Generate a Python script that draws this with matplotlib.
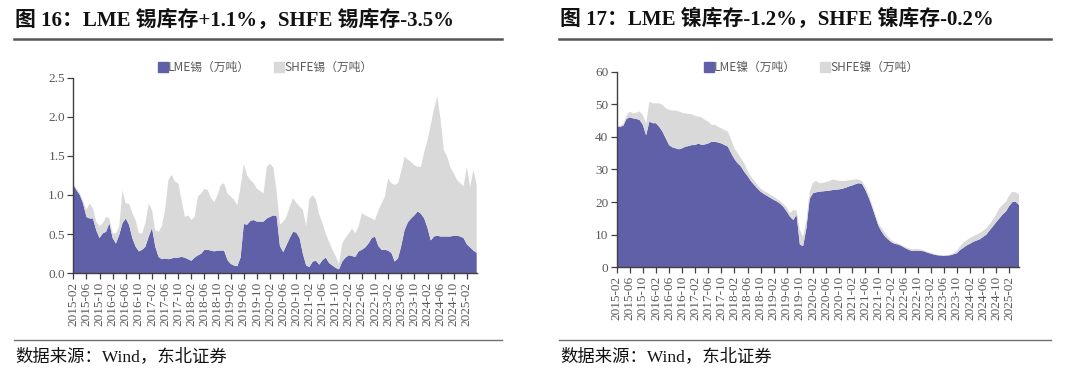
import matplotlib
matplotlib.use("Agg")
import matplotlib.pyplot as plt
import numpy as np
from matplotlib.lines import Line2D

# monthly points, first one is 2015-02
tin_lme = [
    1.13, 1.06, 1.00, 0.89, 0.72, 0.70, 0.70, 0.55, 0.45, 0.51,
    0.53, 0.64, 0.45, 0.38, 0.49, 0.64, 0.70, 0.62, 0.45, 0.34,
    0.28, 0.30, 0.34, 0.47, 0.58, 0.34, 0.21, 0.18, 0.19, 0.18,
    0.19, 0.20, 0.20, 0.21, 0.20, 0.18, 0.16, 0.20, 0.23, 0.25,
    0.30, 0.30, 0.29, 0.28, 0.29, 0.29, 0.29, 0.17, 0.12, 0.10,
    0.09, 0.20, 0.63, 0.62, 0.67, 0.68, 0.66, 0.66, 0.66, 0.70,
    0.72, 0.74, 0.73, 0.35, 0.27, 0.36, 0.45, 0.53, 0.52, 0.45,
    0.25, 0.10, 0.08, 0.15, 0.16, 0.11, 0.17, 0.20, 0.13, 0.10,
    0.07, 0.05, 0.15, 0.20, 0.23, 0.22, 0.21, 0.28, 0.30, 0.33,
    0.38, 0.45, 0.47, 0.35, 0.30, 0.30, 0.29, 0.26,
    0.15, 0.19, 0.35, 0.55, 0.65, 0.70, 0.74, 0.79, 0.76, 0.70, 0.58,
    0.42, 0.47, 0.48, 0.47, 0.47, 0.47, 0.47, 0.48, 0.48, 0.47,
    0.45, 0.37, 0.33, 0.29, 0.26,
]
tin_shfe = [
    0.02, 0.02, 0.02, 0.03, 0.09, 0.19, 0.13, 0.11, 0.15, 0.13,
    0.19, 0.06, 0.06, 0.13, 0.11, 0.42, 0.19, 0.27, 0.32, 0.34,
    0.23, 0.21, 0.30, 0.42, 0.23, 0.21, 0.32, 0.42, 0.62, 1.01,
    1.07, 0.97, 0.95, 0.73, 0.52, 0.56, 0.52, 0.52, 0.75, 0.77,
    0.78, 0.76, 0.67, 0.63, 0.71, 0.84, 0.86, 0.85, 0.86, 0.84,
    0.78, 0.90, 0.77, 0.63, 0.52, 0.47, 0.42, 0.39, 0.36, 0.66,
    0.68, 0.61, 0.32, 0.27, 0.39, 0.36, 0.40, 0.43, 0.38, 0.40,
    0.56, 0.50, 0.87, 0.85, 0.78, 0.64, 0.47, 0.30, 0.27, 0.20,
    0.15, 0.07, 0.23, 0.25, 0.28, 0.35, 0.30, 0.32, 0.47, 0.41,
    0.34, 0.25, 0.21, 0.45, 0.59, 0.68, 0.92, 0.89,
    0.98, 0.96, 0.95, 0.94, 0.80, 0.72, 0.64, 0.57, 0.60, 0.85, 1.12,
    1.48, 1.63, 1.78, 1.49, 1.10, 1.02, 0.88, 0.80, 0.71, 0.68,
    0.66, 0.99, 0.77, 1.03, 0.87,
]
ni_lme = [
    43.0, 43.1, 43.4, 45.5, 46.0, 45.7, 45.5, 45.2, 43.7, 40.5,
    44.7, 44.2, 44.2, 43.1, 41.6, 39.6, 37.5, 36.8, 36.5, 36.2,
    36.5, 37.0, 37.2, 37.5, 37.5, 38.0, 37.5, 37.7, 38.0, 38.5,
    38.5, 38.3, 38.0, 37.5, 37.0, 35.0, 33.2, 31.9, 30.9, 29.3,
    28.0, 26.5, 25.3, 24.2, 23.2, 22.5, 21.9, 21.3, 20.7, 20.2,
    19.5, 18.5, 17.1, 15.5, 14.5, 16.1, 7.0, 6.5, 12.0, 21.0,
    22.7, 23.0, 23.2, 23.3, 23.4, 23.5, 23.7, 23.8, 23.9, 24.1,
    24.4, 24.8, 25.1, 25.5, 25.8, 25.6, 23.8, 21.5, 18.8, 15.8,
    12.8, 10.9, 9.5, 8.5, 7.7, 7.2, 7.0, 6.6, 6.0, 5.5,
    5.1, 5.0, 5.0, 5.0, 4.9, 4.5, 4.2, 3.9, 3.7, 3.6,
    3.5, 3.6, 3.7, 4.0, 4.3, 5.3, 6.0, 6.7, 7.2, 7.8,
    8.2, 8.6, 9.3, 10.0, 11.3, 12.5, 13.8, 15.0, 16.2, 17.1,
    18.8, 20.0, 20.1, 19.1,
]
ni_shfe = [
    0.2, 0.3, 0.6, 1.0, 1.8, 1.5, 1.9, 2.6, 3.0, 3.5,
    6.1, 6.1, 6.1, 7.2, 8.2, 9.2, 10.8, 11.3, 11.6, 11.6,
    10.9, 10.2, 9.8, 9.5, 8.9, 8.2, 8.5, 7.5, 6.7, 5.2,
    5.2, 4.8, 4.6, 4.6, 4.6, 4.1, 3.3, 3.1, 2.5, 2.6,
    1.6, 1.5, 1.3, 1.1, 1.0, 1.0, 1.0, 1.0, 1.0, 0.8,
    0.8, 0.9, 1.3, 1.1, 3.1, 1.3, 4.5, 2.9, 2.5, 2.0,
    3.3, 3.5, 2.6, 2.6, 2.7, 2.9, 3.3, 2.9, 2.6, 2.4,
    2.1, 1.9, 1.7, 1.5, 1.1, 0.9, 0.9, 1.0, 0.7, 0.7,
    0.7, 1.1, 1.0, 0.8, 0.5, 0.4, 0.3, 0.2, 0.4, 0.4,
    0.5, 0.6, 0.6, 0.4, 0.2, 0.2, 0.2, 0.2, 0.1, 0.1,
    0.1, 0.1, 0.2, 0.3, 0.7, 1.2, 1.5, 1.6, 1.8, 1.7,
    1.8, 1.9, 1.9, 2.0, 1.9, 2.0, 2.4, 3.1, 3.0, 3.0,
    3.2, 3.2, 2.9, 3.1,
]

tick_months = list(range(0, 121, 4))
tick_labels = [f"{2015 + (1 + m) // 12}-{(1 + m) % 12 + 1:02d}" for m in tick_months]

BLUE = "#5F60A8"
GRAY = "#D9D9D9"
TXT = "#595959"
SERIF = ["Liberation Serif", "Noto Sans CJK SC"]
CJK = ["Noto Sans CJK SC", "DejaVu Sans"]

W, H = 1080, 380
fig = plt.figure(figsize=(W / 100, H / 100), dpi=100)


def px_axes(x0, x1, y_top, y_bot):
    return fig.add_axes([x0 / W, 1 - y_bot / H, (x1 - x0) / W, (y_bot - y_top) / H])


def panel(ax, lme, shfe, ymax, yticks, yfmt, names, legend_x):
    x = np.arange(len(lme))
    ax.stackplot(x, lme, shfe, colors=[BLUE, GRAY], linewidth=0)
    ax.set_xlim(0, len(lme) - 1)
    ax.set_ylim(0, ymax)
    ax.set_yticks(yticks)
    ax.set_yticklabels([yfmt.format(v) for v in yticks])
    ax.set_xticks(tick_months)
    ax.set_xticklabels(tick_labels, rotation=90)
    for s in ["top", "right"]:
        ax.spines[s].set_visible(False)
    for s in ["left", "bottom"]:
        ax.spines[s].set_color("#404040")
        ax.spines[s].set_linewidth(1.0)
    ax.tick_params(axis="both", direction="out", length=4, width=0.9, color="#404040",
                   labelcolor=TXT, labelsize=9.5, pad=2)
    for lab in ax.get_xticklabels() + ax.get_yticklabels():
        lab.set_family(SERIF)
    handles = [Line2D([], [], ls="", marker="s", markersize=6.5, color=c) for c in (BLUE, GRAY)]
    fig.legend(handles, names, loc="center", bbox_to_anchor=(legend_x / W, 1 - 67.5 / H),
               ncol=2, frameon=False, handlelength=0.6, handletextpad=0.15, columnspacing=2.2,
               prop={"family": CJK, "size": 8.5}, labelcolor=TXT)


def frame(x0, x1, title):
    fig.text(x0 + 1 / W, 1 - 20 / H, title, ha="left", va="center", fontsize=15,
             fontweight="bold", family=SERIF, color="#111111")
    fig.add_artist(Line2D([x0, x1], [1 - 38.5 / H] * 2, color="#555555", lw=1.8))
    fig.add_artist(Line2D([x0, x1], [1 - 340 / H] * 2, color="#707070", lw=1.0))
    fig.text(x0 + 1 / W, 1 - 357 / H, "数据来源：Wind，东北证券", ha="left", va="center",
             fontsize=12.5, family=SERIF, color="#111111")


ax1 = px_axes(73.3, 476.7, 77.5, 273.3)
panel(ax1, tin_lme, tin_shfe, 2.5, [0, 0.5, 1.0, 1.5, 2.0, 2.5], "{:.1f}",
      ["LME锡（万吨）", "SHFE锡（万吨）"], 266)
frame(14 / W, 502 / W, "图 16：LME 锡库存+1.1%，SHFE 锡库存-3.5%")

ax2 = px_axes(616.7, 1019, 71.7, 267.3)
panel(ax2, ni_lme, ni_shfe, 60, [0, 10, 20, 30, 40, 50, 60], "{:.0f}",
      ["LME镍（万吨）", "SHFE镍（万吨）"], 812)
frame(559 / W, 1051 / W, "图 17：LME 镍库存-1.2%，SHFE 镍库存-0.2%")

fig.savefig("out.png", dpi=100, facecolor="white")
